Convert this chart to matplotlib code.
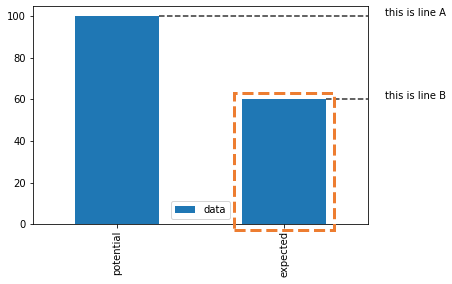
import matplotlib
matplotlib.use('Agg')
import matplotlib.pyplot as plt
from matplotlib.patches import Rectangle

# data
categories = ['potential', 'expected']
values = [100, 60]
line_labels = ['this is line A', 'this is line B']

fig = plt.figure(figsize=(452 / 72, 284 / 72), dpi=72)
ax = fig.add_axes([0.073, 0.211, 0.741, 0.768])

x = list(range(len(categories)))
ax.bar(x, values, width=0.5, color='#1f77b4', label='data')
ax.set_xticks(x)
ax.set_xticklabels(categories, rotation=90)
ax.set_xlim(-0.5, 1.5)
ax.set_ylim(0, 105)

# dashed reference lines from bar edge to the right border, plus labels
for i, (v, lab) in enumerate(zip(values, line_labels)):
    ax.hlines(v, i + 0.25, 1.5, colors='k', linestyles='--', alpha=0.8)
    ax.text(1.6, v, lab, clip_on=False)

# highlight box around the second bar
rect = Rectangle((0.7, -3), 0.6, values[1] + 6, fill=False, edgecolor='#ed7d31',
                 linestyle='--', linewidth=3, clip_on=False, zorder=3)
ax.add_patch(rect)

ax.legend(loc='lower center')

fig.savefig('out.png', dpi=72)
